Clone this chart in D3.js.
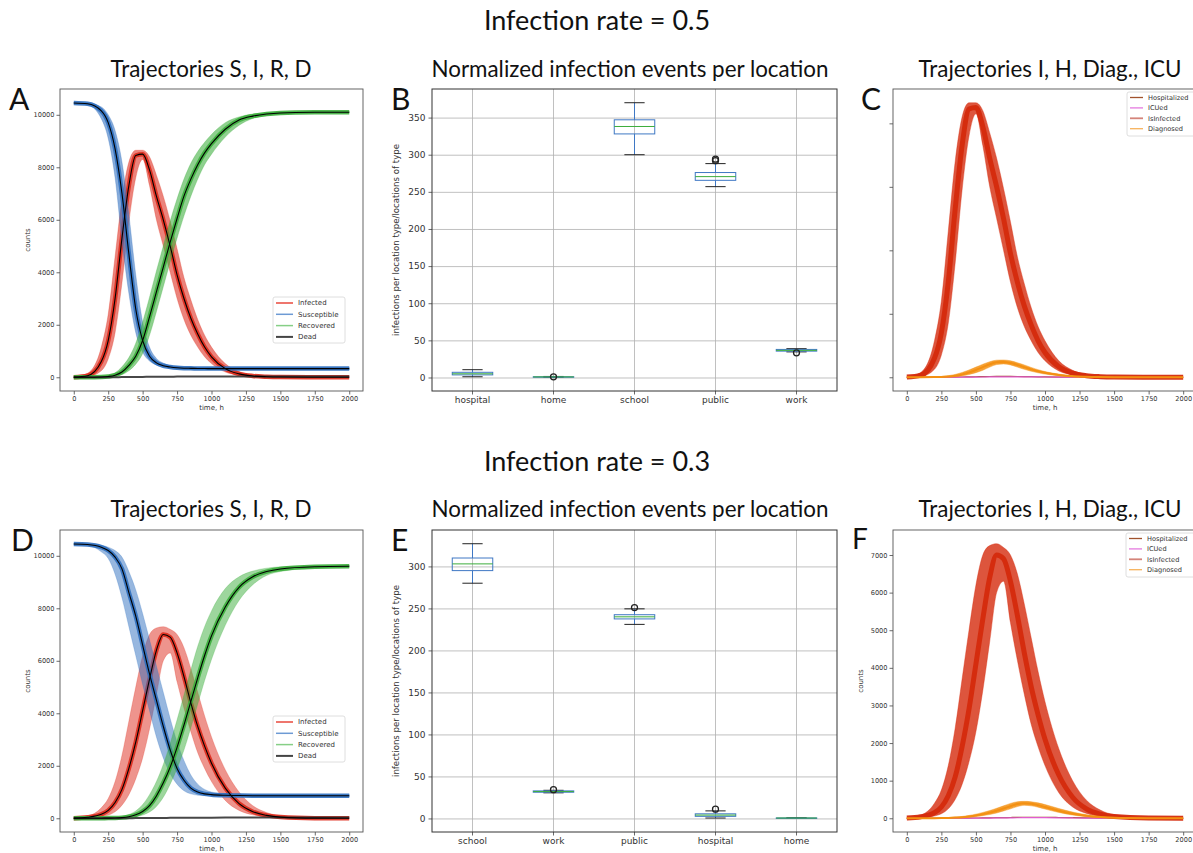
<!DOCTYPE html>
<html>
<head>
<meta charset="utf-8">
<script src="https://cdn.jsdelivr.net/npm/d3@7"></script>
<style>
  body { margin: 0; background: #fff; }
  .fig-text { font-family: Lato, "Open Sans", sans-serif; fill: #111; }
  .mpl { font-family: "DejaVu Sans", sans-serif; }
</style>
</head>
<body>
<div id="fig"></div>
<script>
(function () {
  "use strict";

  /***** Données *****/
  // grille temporelle commune, en heures
  var T = [0, 100, 200, 250, 300, 350, 400, 450, 500, 550, 600, 650, 700, 750, 800, 850, 900, 950, 1000, 1100, 1200, 1300, 1400, 1500, 1750, 2000];

  // Taux d'infection 0.5 (A, C)
  var susA   = [10450, 10420, 10150, 9700, 8700, 7000, 4700, 2600, 1400, 800, 550, 440, 390, 360, 345, 340, 335, 332, 330, 330, 330, 330, 330, 330, 330, 330];
  var susAhi = [10460, 10450, 10300, 10000, 9400, 8200, 6200, 3900, 2100, 1150, 720, 540, 450, 410, 385, 375, 372, 370, 370, 370, 370, 370, 370, 370, 370, 370];
  var susAlo = [10440, 10380, 9850, 9100, 7600, 5200, 3200, 1700, 950, 620, 470, 400, 360, 330, 315, 305, 300, 296, 294, 292, 290, 290, 290, 290, 290, 290];
  var infA   = [5, 60, 600, 1400, 3000, 5300, 7300, 8450, 8500, 7900, 6900, 6000, 5000, 3900, 3000, 2250, 1650, 1150, 780, 330, 130, 50, 20, 8, 2, 0];
  var infAhi = [10, 150, 1150, 2400, 4600, 6800, 8200, 8650, 8650, 8400, 7700, 6900, 5950, 4900, 3800, 2950, 2200, 1600, 1150, 520, 220, 90, 35, 14, 3, 0];
  var infAlo = [0, 20, 250, 700, 1700, 3600, 5900, 7600, 8300, 7300, 6000, 5000, 4000, 3000, 2200, 1600, 1150, 780, 520, 200, 75, 28, 10, 4, 1, 0];
  var recA   = [0, 0, 10, 30, 80, 200, 450, 800, 1400, 2300, 3250, 4200, 5150, 6050, 6900, 7550, 8100, 8550, 8900, 9450, 9800, 9950, 10030, 10070, 10095, 10100];
  var recAhi = [0, 2, 25, 70, 170, 400, 750, 1300, 2100, 3050, 4050, 5000, 5950, 6800, 7550, 8150, 8600, 8950, 9250, 9700, 9920, 10030, 10080, 10110, 10125, 10130];
  var recAlo = [0, 0, 3, 12, 35, 100, 250, 500, 900, 1600, 2500, 3450, 4400, 5300, 6150, 6900, 7550, 8100, 8500, 9150, 9600, 9860, 9970, 10030, 10065, 10075];
  var deadA  = [0, 0, 1, 2, 4, 6, 9, 12, 15, 18, 20, 22, 24, 25, 26, 27, 28, 28, 29, 30, 30, 30, 30, 30, 30, 30];
  var diagC   = [0, 0, 5, 10, 25, 50, 90, 150, 230, 320, 410, 470, 480, 450, 390, 320, 250, 190, 140, 75, 35, 15, 6, 2, 0, 0];
  var diagChi = [0, 2, 12, 25, 50, 90, 150, 230, 320, 410, 490, 540, 545, 520, 460, 390, 310, 240, 180, 100, 50, 22, 9, 4, 1, 0];
  var diagClo = [0, 0, 1, 3, 8, 20, 45, 85, 145, 220, 320, 400, 420, 390, 320, 250, 190, 140, 100, 50, 22, 9, 3, 1, 0, 0];
  var icuC    = [0, 0, 0, 0, 1, 2, 3, 5, 7, 9, 11, 13, 14, 15, 15, 14, 13, 11, 9, 6, 4, 2, 1, 0, 0, 0];
  var hospC   = [0, 0, 1, 2, 3, 5, 8, 12, 16, 20, 24, 27, 28, 27, 25, 22, 18, 15, 12, 7, 4, 2, 1, 0, 0, 0];

  // Taux d'infection 0.3 (D, F)
  var susD   = [10450, 10430, 10330, 10200, 9950, 9500, 8600, 7700, 6600, 5500, 4500, 3500, 2600, 1900, 1450, 1150, 1000, 930, 900, 875, 865, 860, 860, 860, 860, 860];
  var susDhi = [10460, 10445, 10400, 10330, 10200, 9950, 9400, 8700, 7800, 6800, 5800, 4800, 3800, 2900, 2200, 1650, 1300, 1100, 1000, 940, 915, 905, 900, 900, 900, 900];
  var susDlo = [10440, 10400, 10150, 9900, 9300, 8400, 7300, 6200, 5100, 4100, 3100, 2300, 1700, 1300, 1050, 930, 880, 860, 850, 830, 825, 820, 820, 820, 820, 820];
  var infD   = [5, 40, 150, 300, 600, 1100, 1900, 2900, 4100, 5300, 6400, 7000, 6900, 6300, 5400, 4400, 3500, 2750, 2100, 1150, 560, 250, 110, 45, 5, 0];
  var infDhi = [10, 80, 400, 750, 1400, 2400, 3700, 5000, 6200, 7000, 7250, 7300, 7200, 7000, 6500, 5700, 4800, 3900, 3100, 1850, 1000, 480, 220, 95, 12, 0];
  var infDlo = [0, 15, 60, 120, 250, 500, 900, 1500, 2300, 3400, 4700, 6000, 6300, 5200, 4200, 3300, 2500, 1900, 1400, 680, 300, 130, 50, 20, 2, 0];
  var recD   = [0, 0, 3, 6, 10, 25, 60, 130, 260, 480, 850, 1350, 1950, 2700, 3550, 4450, 5350, 6200, 6950, 8050, 8800, 9200, 9400, 9500, 9580, 9600];
  var recDhi = [0, 1, 6, 12, 25, 60, 140, 280, 520, 900, 1400, 2050, 2850, 3750, 4700, 5650, 6550, 7300, 7900, 8750, 9200, 9420, 9530, 9580, 9620, 9640];
  var recDlo = [0, 0, 1, 2, 4, 10, 25, 55, 120, 240, 450, 800, 1300, 1900, 2600, 3450, 4350, 5250, 6050, 7350, 8300, 8900, 9250, 9400, 9530, 9560];
  var deadD  = [0, 0, 0, 1, 2, 3, 4, 6, 8, 10, 12, 14, 16, 18, 20, 21, 22, 23, 24, 25, 26, 26, 26, 26, 26, 26];
  var diagF   = [0, 0, 2, 5, 10, 18, 30, 50, 75, 110, 150, 200, 260, 320, 380, 400, 385, 350, 300, 200, 120, 65, 32, 15, 3, 0];
  var diagFhi = [0, 1, 5, 10, 18, 30, 48, 75, 110, 155, 205, 265, 330, 395, 440, 450, 440, 410, 365, 260, 165, 95, 50, 25, 6, 1];
  var diagFlo = [0, 0, 0, 2, 4, 8, 15, 28, 45, 70, 100, 140, 195, 250, 310, 345, 330, 295, 245, 155, 85, 42, 20, 8, 1, 0];
  var icuF    = [0, 0, 0, 0, 0, 1, 1, 2, 3, 4, 6, 8, 10, 12, 14, 15, 16, 16, 15, 12, 8, 5, 3, 1, 0, 0];
  var hospF   = [0, 0, 0, 1, 1, 2, 3, 5, 7, 9, 12, 15, 18, 21, 24, 26, 27, 27, 26, 21, 15, 9, 5, 3, 1, 0];

  // Boîtes à moustaches (B : taux 0.5, E : taux 0.3)
  var locB      = ["hospital", "home", "school", "public", "work"];
  var bWhisLo   = [1, 0.3, 300, 257, 34.5];
  var bQ1       = [3.5, 0.6, 328, 265.5, 35.5];
  var bMedian   = [5, 0.8, 338, 270.5, 36.5];
  var bQ3       = [7, 1.0, 347, 276, 37.8];
  var bWhisHi   = [10.5, 1.4, 370, 288, 38.8];
  var bFliers   = [[], [0.9], [], [292, 294], [33.2]];

  var locE      = ["school", "work", "public", "hospital", "home"];
  var eWhisLo   = [280, 30.5, 231, 0.5, 0.2];
  var eQ1       = [295, 31.2, 237.5, 2.5, 0.4];
  var eMedian   = [303, 32, 240, 4, 0.5];
  var eQ3       = [310, 32.8, 242.5, 5.5, 0.6];
  var eWhisHi   = [327, 33.5, 249.5, 9, 0.8];
  var eFliers   = [[], [34.3], [251], [11], []];

  var sirLegend = ["Infected", "Susceptible", "Recovered", "Dead"];
  var ihLegend  = ["Hospitalized", "ICUed", "IsInfected", "Diagnosed"];

  /***** Mise en page *****/
  var W = 1193, H = 853;
  var svg = d3.select("#fig").append("svg")
    .attr("width", W).attr("height", H)
    .attr("viewBox", "0 0 " + W + " " + H);

  var panels = {
    A: {x: 60,  y: 89,  w: 303, h: 302},
    B: {x: 432, y: 89,  w: 405, h: 302},
    C: {x: 893, y: 89,  w: 304, h: 302},
    D: {x: 60,  y: 530, w: 303, h: 302},
    E: {x: 432, y: 530, w: 405, h: 302},
    F: {x: 893, y: 530, w: 304, h: 302}
  };

  var colors = {
    inf: "#dd2a1b", sus: "#2f6fbf", rec: "#3cae3c", dead: "#333333",
    isInf: "#d42a0c", diag: "#f39012", icu: "#e05ccf", hosp: "#9b4a1c"
  };

  function styleAxis(sel, fs) {
    sel.select(".domain").remove();
    sel.selectAll(".tick line").attr("stroke", "#444").attr("stroke-width", 0.8);
    sel.selectAll(".tick text").attr("fill", "#333")
      .attr("class", "mpl").style("font-size", fs + "px");
  }

  function padded(lo, hi) {
    var p = (hi - lo) * 0.05;
    return [lo - p, hi + p];
  }

  /***** Trajectoires *****/
  function drawTraj(p, series, opt) {
    var g = svg.append("g").attr("transform", "translate(" + p.x + "," + p.y + ")");
    var all = [];
    series.forEach(function (s) { all = all.concat(s.hi || s.mean, s.lo || s.mean); });
    var x = d3.scaleLinear().domain(padded(d3.min(T), d3.max(T))).range([0, p.w]);
    var y = d3.scaleLinear().domain(padded(d3.min(all), d3.max(all))).range([p.h, 0]);

    var clipId = "clip" + opt.id;
    g.append("clipPath").attr("id", clipId).append("rect")
      .attr("width", p.w).attr("height", p.h);
    var plot = g.append("g").attr("clip-path", "url(#" + clipId + ")");

    var area = d3.area().curve(d3.curveMonotoneX)
      .x(function (d) { return x(d.t); })
      .y0(function (d) { return y(d.lo); })
      .y1(function (d) { return y(d.hi); });
    var line = d3.line().curve(d3.curveMonotoneX)
      .x(function (d) { return x(d.t); })
      .y(function (d) { return y(d.v); });

    function pts(arr) { return T.map(function (t, i) { return {t: t, v: arr[i]}; }); }

    series.forEach(function (s) {
      if (s.hi) {
        var band = T.map(function (t, i) { return {t: t, lo: s.lo[i], hi: s.hi[i]}; });
        plot.append("path").datum(band).attr("d", area)
          .attr("fill", s.color).attr("fill-opacity", s.bandOpacity)
          .attr("stroke", s.color).attr("stroke-opacity", s.bandOpacity * 0.6)
          .attr("stroke-width", 0.8);
      }
      plot.append("path").datum(pts(s.mean)).attr("d", line)
        .attr("fill", "none").attr("stroke", s.color)
        .attr("stroke-width", s.coreWidth).attr("stroke-opacity", s.coreOpacity)
        .attr("stroke-linejoin", "round");
    });
    series.forEach(function (s) {
      if (s.blackMean) {
        plot.append("path").datum(pts(s.mean)).attr("d", line)
          .attr("fill", "none").attr("stroke", "#000").attr("stroke-width", 1.1);
      }
    });

    // axes
    var ax = g.append("g").attr("transform", "translate(0," + p.h + ")")
      .call(d3.axisBottom(x).tickValues(d3.range(0, 2001, 250)).tickSize(3.5).tickPadding(2)
        .tickFormat(d3.format("d")));
    styleAxis(ax, 6.6);
    var ay = g.append("g")
      .call(d3.axisLeft(y).tickValues(opt.yTicks).tickSize(3.5).tickPadding(2)
        .tickFormat(opt.yLabels ? d3.format("d") : function () { return ""; }));
    styleAxis(ay, 6.6);

    g.append("rect").attr("width", p.w).attr("height", p.h)
      .attr("fill", "none").attr("stroke", "#555").attr("stroke-width", 0.9);

    g.append("text").attr("class", "mpl").attr("x", p.w / 2).attr("y", p.h + 19)
      .attr("text-anchor", "middle").style("font-size", "7px").attr("fill", "#333")
      .text("time, h");
    if (opt.yLabels) {
      g.append("text").attr("class", "mpl")
        .attr("transform", "translate(" + (-30) + "," + (p.h / 2) + ") rotate(-90)")
        .attr("text-anchor", "middle").style("font-size", "7px").attr("fill", "#333")
        .text("counts");
    }

    // légende
    var L = opt.legend;
    var lg = g.append("g").attr("transform", "translate(" + L.x + "," + L.y + ")");
    lg.append("rect").attr("width", L.w).attr("height", L.h).attr("rx", 2)
      .attr("fill", "#fff").attr("fill-opacity", 0.85)
      .attr("stroke", "#d6d6d6").attr("stroke-width", 0.8);
    L.labels.forEach(function (lab, i) {
      var yy = L.pad + i * L.step;
      lg.append("line").attr("x1", 3).attr("x2", 3 + L.lineW).attr("y1", yy).attr("y2", yy)
        .attr("stroke", L.colors[i]).attr("stroke-width", L.lineWidths[i]);
      lg.append("text").attr("class", "mpl").attr("x", L.lineW + 8).attr("y", yy)
        .attr("dy", "0.35em").style("font-size", L.fs + "px").attr("fill", "#333")
        .text(lab);
    });
  }

  /***** Boîtes à moustaches *****/
  function drawBox(p, cats, lo, q1, med, q3, hi, fliers) {
    var g = svg.append("g").attr("transform", "translate(" + p.x + "," + p.y + ")");
    var all = lo.concat(hi, d3.merge(fliers));
    var x = d3.scaleBand().domain(cats).range([0, p.w]).paddingInner(0.5).paddingOuter(0.25);
    var y = d3.scaleLinear().domain(padded(d3.min(all), d3.max(all))).range([p.h, 0]);
    var yTicks = d3.range(0, d3.max(all), 50);
    var bw = x.bandwidth();

    // grille
    var gy = g.append("g").call(d3.axisLeft(y).tickValues(yTicks).tickSize(-p.w).tickFormat(""));
    gy.select(".domain").remove();
    gy.selectAll("line").attr("stroke", "#b0b0b0").attr("stroke-width", 0.8);
    cats.forEach(function (c) {
      g.append("line").attr("x1", x(c) + bw / 2).attr("x2", x(c) + bw / 2)
        .attr("y1", 0).attr("y2", p.h).attr("stroke", "#b0b0b0").attr("stroke-width", 0.8);
    });

    cats.forEach(function (c, i) {
      var cx = x(c) + bw / 2;
      var b = g.append("g");
      // moustaches
      b.append("line").attr("x1", cx).attr("x2", cx).attr("y1", y(lo[i])).attr("y2", y(q1[i]))
        .attr("stroke", "#3f78c4").attr("stroke-width", 1);
      b.append("line").attr("x1", cx).attr("x2", cx).attr("y1", y(q3[i])).attr("y2", y(hi[i]))
        .attr("stroke", "#3f78c4").attr("stroke-width", 1);
      // bornes
      [lo[i], hi[i]].forEach(function (v) {
        b.append("line").attr("x1", cx - bw / 4).attr("x2", cx + bw / 4)
          .attr("y1", y(v)).attr("y2", y(v)).attr("stroke", "#222").attr("stroke-width", 1);
      });
      // boîte
      b.append("rect").attr("x", x(c)).attr("width", bw)
        .attr("y", y(q3[i])).attr("height", Math.max(0.5, y(q1[i]) - y(q3[i])))
        .attr("fill", "none").attr("stroke", "#3f78c4").attr("stroke-width", 1);
      b.append("line").attr("x1", x(c)).attr("x2", x(c) + bw)
        .attr("y1", y(med[i])).attr("y2", y(med[i]))
        .attr("stroke", "#3cae3c").attr("stroke-width", 1);
      fliers[i].forEach(function (v) {
        b.append("circle").attr("cx", cx).attr("cy", y(v)).attr("r", 3)
          .attr("fill", "none").attr("stroke", "#222").attr("stroke-width", 1.3);
      });
    });

    var ax = g.append("g").attr("transform", "translate(0," + p.h + ")")
      .call(d3.axisBottom(x).tickSize(3.5).tickPadding(2));
    styleAxis(ax, 9);
    var ay = g.append("g")
      .call(d3.axisLeft(y).tickValues(yTicks).tickSize(3.5).tickPadding(3));
    styleAxis(ay, 9);

    g.append("rect").attr("width", p.w).attr("height", p.h)
      .attr("fill", "none").attr("stroke", "#333").attr("stroke-width", 1);

    g.append("text").attr("class", "mpl")
      .attr("transform", "translate(" + (-33) + "," + (p.h / 2) + ") rotate(-90)")
      .attr("text-anchor", "middle").style("font-size", "8.6px").attr("fill", "#333")
      .text("infections per location type/locations of type");
  }

  function sirSeries(inf, infHi, infLo, sus, susHi, susLo, rec, recHi, recLo, dead, op) {
    return [
      {mean: inf, hi: infHi, lo: infLo, color: colors.inf, bandOpacity: op, coreWidth: 4.5, coreOpacity: 0.9, blackMean: true},
      {mean: sus, hi: susHi, lo: susLo, color: colors.sus, bandOpacity: op, coreWidth: 4.5, coreOpacity: 0.9, blackMean: true},
      {mean: rec, hi: recHi, lo: recLo, color: colors.rec, bandOpacity: op, coreWidth: 4.5, coreOpacity: 0.9, blackMean: true},
      {mean: dead, color: colors.dead, coreWidth: 2, coreOpacity: 0.9, blackMean: false}
    ];
  }

  function ihSeries(hosp, icu, inf, infHi, infLo, diag, diagHi, diagLo) {
    return [
      {mean: hosp, color: colors.hosp, coreWidth: 1.2, coreOpacity: 1},
      {mean: icu, color: colors.icu, coreWidth: 1.2, coreOpacity: 1},
      {mean: inf, hi: infHi, lo: infLo, color: colors.isInf, bandOpacity: 0.8, coreWidth: 5, coreOpacity: 0.95},
      {mean: diag, hi: diagHi, lo: diagLo, color: colors.diag, bandOpacity: 0.85, coreWidth: 2, coreOpacity: 1}
    ];
  }

  var sirLeg = function (x, y) {
    return {x: x, y: y, w: 72, h: 46, pad: 6, step: 11.3, lineW: 17, fs: 7,
      labels: sirLegend, colors: ["#e8483c", "#6d9ad4", "#86cf86", "#444"], lineWidths: [1.5, 1.5, 1.5, 2]};
  };
  var ihLeg = function (x, y) {
    return {x: x, y: y, w: 72, h: 44, pad: 5.5, step: 10.4, lineW: 13, fs: 6.6,
      labels: ihLegend, colors: ["#a0522d", "#e47adf", "#d4847a", "#f7b35c"], lineWidths: [1.3, 1.3, 1.8, 1.3]};
  };

  drawTraj(panels.A, sirSeries(infA, infAhi, infAlo, susA, susAhi, susAlo, recA, recAhi, recAlo, deadA, 0.58),
    {id: "A", yTicks: d3.range(0, 10001, 2000), yLabels: true, legend: sirLeg(213, 208)});
  drawTraj(panels.D, sirSeries(infD, infDhi, infDlo, susD, susDhi, susDlo, recD, recDhi, recDlo, deadD, 0.5),
    {id: "D", yTicks: d3.range(0, 10001, 2000), yLabels: true, legend: sirLeg(213, 186)});
  drawTraj(panels.C, ihSeries(hospC, icuC, infA, infAhi, infAlo, diagC, diagChi, diagClo),
    {id: "C", yTicks: d3.range(0, 8001, 2000), yLabels: false, legend: ihLeg(234, 3)});
  drawTraj(panels.F, ihSeries(hospF, icuF, infD, infDhi, infDlo, diagF, diagFhi, diagFlo),
    {id: "F", yTicks: d3.range(0, 7001, 1000), yLabels: true, legend: ihLeg(233, 3)});

  drawBox(panels.B, locB, bWhisLo, bQ1, bMedian, bQ3, bWhisHi, bFliers);
  drawBox(panels.E, locE, eWhisLo, eQ1, eMedian, eQ3, eWhisHi, eFliers);

  /***** Titres *****/
  function txt(x, y, s, size, anchor) {
    svg.append("text").attr("class", "fig-text").attr("x", x).attr("y", y)
      .attr("text-anchor", anchor || "middle").style("font-size", size + "px").text(s);
  }
  txt(597, 30, "Infection rate = 0.5", 27);
  txt(597, 471, "Infection rate = 0.3", 27);
  [77, 517].forEach(function (by) {
    txt(211, by, "Trajectories S, I, R, D", 22.4);
    txt(630, by, "Normalized infection events per location", 22.4);
    txt(1050, by, "Trajectories I, H, Diag., ICU", 22.4);
  });
  txt(9, 110, "A", 30, "start");
  txt(391, 110, "B", 30, "start");
  txt(861, 110, "C", 30, "start");
  txt(11, 551, "D", 30, "start");
  txt(391, 551, "E", 30, "start");
  txt(852, 549, "F", 28, "start");
})();
</script>
</body>
</html>
